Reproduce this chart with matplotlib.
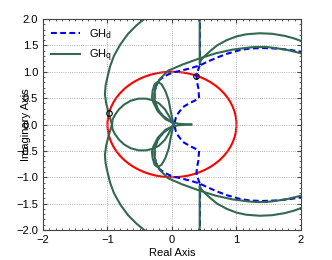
import matplotlib.pyplot as plt
from matplotlib.patches import Circle
from matplotlib.ticker import MultipleLocator

plt.rcParams['font.family'] = ['Liberation Sans', 'DejaVu Sans']

# upper-half branches; the lower half is the conjugate
# GH_d (blue, dashed)
d_vert_x = [0.43, 0.43]
d_vert_y = [2.1, 1.12]
d_outer_x = [2.05, 2.0, 1.8, 1.62, 1.4, 1.2, 1.05, 0.85, 0.68, 0.55, 0.43, 0.3, 0.17,
             0.05, -0.04, -0.12, -0.19, -0.25, -0.27, -0.27, -0.24, -0.19, -0.1, 0.0, 0.04]
d_outer_y = [1.36, 1.38, 1.42, 1.44, 1.45, 1.44, 1.41, 1.34, 1.26, 1.19, 1.12, 1.07, 1.03,
             0.995, 0.96, 0.91, 0.85, 0.72, 0.6, 0.48, 0.35, 0.23, 0.12, 0.04, 0.0]
d_inner_x = [0.43, 0.39, 0.38, 0.39, 0.41, 0.42, 0.35, 0.28, 0.17, 0.1, 0.06, 0.045, 0.04]
d_inner_y = [1.12, 0.98, 0.92, 0.8, 0.68, 0.5, 0.45, 0.41, 0.33, 0.22, 0.13, 0.05, 0.0]

# GH_q (green, solid)
q_top_x = [0.43, 0.43, 0.45, 0.5, 0.6, 0.7, 0.85, 1.0, 1.15, 1.36, 1.55, 1.75, 1.9, 2.05]
q_top_y = [2.1, 1.16, 1.22, 1.29, 1.40, 1.50, 1.60, 1.67, 1.71, 1.73, 1.72, 1.68, 1.63, 1.56]
q_mid_x = [2.05, 2.0, 1.8, 1.6, 1.46, 1.3, 1.2, 0.94, 0.68, 0.42, 0.17, -0.06, -0.19,
           -0.25, -0.27, -0.27, -0.24, -0.19, -0.1, 0.0, 0.1, 0.2, 0.3]
q_mid_y = [1.33, 1.35, 1.41, 1.45, 1.47, 1.47, 1.46, 1.42, 1.35, 1.25, 1.14, 1.02, 0.86,
           0.72, 0.6, 0.48, 0.35, 0.23, 0.12, 0.04, 0.015, 0.005, 0.0]
q_loop_x = [0.02, -0.02, -0.05, -0.1, -0.16, -0.22, -0.27, -0.3, -0.31, -0.29, -0.22, -0.1, 0.02]
q_loop_y = [0.03, 0.25, 0.45, 0.63, 0.76, 0.81, 0.76, 0.64, 0.52, 0.42, 0.25, 0.1, 0.03]
q_big_x = [-0.36, -0.43, -0.55, -0.68, -0.8, -0.9, -0.96, -1.0, -1.03, -1.04, -1.02, -0.99, -0.96, -0.93]
q_big_y = [2.08, 2.0, 1.88, 1.72, 1.52, 1.3, 1.1, 0.9, 0.73, 0.57, 0.4, 0.25, 0.12, 0.0]
q_med_x = [-0.93, -0.92, -0.88, -0.82, -0.74, -0.64, -0.52, -0.4, -0.3, -0.2, -0.11, -0.05, -0.01, 0.02]
q_med_y = [0.0, 0.1, 0.19, 0.29, 0.38, 0.45, 0.49, 0.49, 0.46, 0.4, 0.29, 0.17, 0.07, 0.02]

# unit circle and gain crossings
unit_radius = 1.0
cross_x = [-0.975, 0.38]
cross_y = [0.22, 0.925]

blue = '#0000ff'
green = '#32694f'

fig = plt.figure(figsize=(3.32, 2.60), dpi=100)
ax = fig.add_axes([0.1295, 0.1154, 0.777, 0.8115])

first = True
for xs, ys in [(d_vert_x, d_vert_y), (d_outer_x, d_outer_y), (d_inner_x, d_inner_y)]:
    for sgn in (1, -1):
        ax.plot(xs, [sgn * v for v in ys], color=blue, lw=1.5, dashes=(2.8, 1.6),
                label='GH$_\\mathrm{d}$' if first else None)
        first = False

first = True
for xs, ys in [(q_top_x, q_top_y), (q_mid_x, q_mid_y), (q_loop_x, q_loop_y),
               (q_big_x, q_big_y), (q_med_x, q_med_y)]:
    for sgn in (1, -1):
        ax.plot(xs, [sgn * v for v in ys], color=green, lw=1.5,
                label='GH$_\\mathrm{q}$' if first else None)
        first = False

ax.add_patch(Circle((0, 0), unit_radius, fill=False, edgecolor='#ff0000', lw=1.5))
ax.plot(cross_x, cross_y, 'o', mfc='none', mec='k', ms=4, mew=0.8)

ax.set_xlim(-2, 2)
ax.set_ylim(-2, 2)
ax.xaxis.set_major_locator(MultipleLocator(1))
ax.yaxis.set_major_locator(MultipleLocator(0.5))
ax.xaxis.set_minor_locator(MultipleLocator(0.1))
ax.yaxis.set_minor_locator(MultipleLocator(0.1))
ax.tick_params(which='both', direction='in', top=True, right=True, labelsize=8, color='#444444')
ax.tick_params(which='major', length=3)
ax.tick_params(which='minor', length=1.5)
ax.grid(True, which='major', linestyle=':', color='#999999', lw=0.6)
for s in ax.spines.values():
    s.set_color('#444444')

ax.set_xlabel('Real Axis', fontsize=8, labelpad=2)
ax.set_ylabel('Imaginary Axis', fontsize=8)
ax.yaxis.set_label_coords(-0.045, 0.5)

ax.legend(loc='upper left', frameon=False, fontsize=8, handlelength=2.6,
          borderaxespad=0.3, labelspacing=0.6)

fig.savefig('out.png', dpi=100)
